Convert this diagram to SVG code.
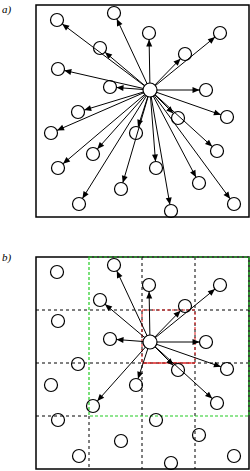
<svg xmlns="http://www.w3.org/2000/svg" width="250" height="471" viewBox="0 0 250 471">
<style>
.box{fill:none;stroke:#000;stroke-width:1.5}
.n{fill:none;stroke:#000;stroke-width:1.2}
.c{fill:#fff;stroke:#000;stroke-width:1.2}
.a{stroke:#000;stroke-width:1;fill:none;marker-end:url(#ah)}
.g{fill:none;stroke:#000;stroke-width:1;stroke-dasharray:3,3}
.gr{fill:none;stroke:#22cc22;stroke-width:1.2;stroke-dasharray:3,2}
.rd{fill:none;stroke:#e02020;stroke-width:1;stroke-dasharray:3,2}
.lbl{font-family:"Liberation Serif",serif;font-style:italic;font-size:11px;fill:#000}
</style>
<defs>
<marker id="ah" markerUnits="userSpaceOnUse" markerWidth="8" markerHeight="6" refX="7" refY="3" orient="auto" overflow="visible">
<path d="M0,0 L7,3 L0,6 z" fill="#000"/>
</marker>
</defs>
<rect width="250" height="471" fill="#fff"/>
<text class="lbl" x="2" y="13">a)</text>
<text class="lbl" x="2" y="261">b)</text>
<g id="panel-a-frame"><rect class="box" x="36" y="5" width="213" height="212"/></g>
<g id="panel-b-frame">
<rect class="box" x="36" y="257" width="213" height="212"/>
<line class="g" x1="89" y1="416" x2="89" y2="469"/>
<line class="g" x1="142" y1="257" x2="142" y2="469"/>
<line class="g" x1="195" y1="257" x2="195" y2="469"/>
<line class="g" x1="36" y1="310" x2="249" y2="310"/>
<line class="g" x1="36" y1="363" x2="249" y2="363"/>
<line class="g" x1="36" y1="416" x2="89" y2="416"/>
<rect class="gr" x="89" y="257" width="160" height="159"/>
<rect class="rd" x="142" y="310" width="53" height="53"/>
<line x1="142" y1="363" x2="195" y2="363" stroke="#e02020" stroke-width="1"/>
</g>
<g id="connectors">
<line class="a" x1="150" y1="90" x2="62.2" y2="23.9"/>
<line class="a" x1="150" y1="90" x2="116.8" y2="18.9"/>
<line class="a" x1="150" y1="90" x2="149.1" y2="39.5"/>
<line class="a" x1="150" y1="90" x2="215.0" y2="37.1"/>
<line class="a" x1="150" y1="90" x2="105.0" y2="52.2"/>
<line class="a" x1="150" y1="90" x2="180.5" y2="58.7"/>
<line class="a" x1="150" y1="90" x2="64.3" y2="70.4"/>
<line class="a" x1="150" y1="90" x2="116.5" y2="87.5"/>
<line class="a" x1="150" y1="90" x2="199.5" y2="90"/>
<line class="a" x1="150" y1="90" x2="84.2" y2="110.1"/>
<line class="a" x1="150" y1="90" x2="220.9" y2="114.8"/>
<line class="a" x1="150" y1="90" x2="173.4" y2="113.4"/>
<line class="a" x1="150" y1="90" x2="57.0" y2="130.4"/>
<line class="a" x1="150" y1="90" x2="138.0" y2="126.8"/>
<line class="a" x1="150" y1="90" x2="212.2" y2="146.6"/>
<line class="a" x1="150" y1="90" x2="97.3" y2="149.1"/>
<line class="a" x1="150" y1="90" x2="63.0" y2="163.8"/>
<line class="a" x1="150" y1="90" x2="155.5" y2="161.5"/>
<line class="a" x1="150" y1="90" x2="196.0" y2="177.3"/>
<line class="a" x1="150" y1="90" x2="122.8" y2="182.8"/>
<line class="a" x1="150" y1="90" x2="82.4" y2="198.5"/>
<line class="a" x1="150" y1="90" x2="230.1" y2="198.8"/>
<line class="a" x1="150" y1="90" x2="169.9" y2="204.6"/>
<line class="a" x1="150" y1="342" x2="116.8" y2="270.9"/>
<line class="a" x1="150" y1="342" x2="149.1" y2="291.5"/>
<line class="a" x1="150" y1="342" x2="215.0" y2="289.1"/>
<line class="a" x1="150" y1="342" x2="105.0" y2="304.2"/>
<line class="a" x1="150" y1="342" x2="180.5" y2="310.7"/>
<line class="a" x1="150" y1="342" x2="116.5" y2="339.5"/>
<line class="a" x1="150" y1="342" x2="199.5" y2="342"/>
<line class="a" x1="150" y1="342" x2="220.9" y2="366.8"/>
<line class="a" x1="150" y1="342" x2="173.4" y2="365.4"/>
<line class="a" x1="150" y1="342" x2="138.0" y2="378.8"/>
<line class="a" x1="150" y1="342" x2="212.2" y2="398.6"/>
<line class="a" x1="150" y1="342" x2="97.3" y2="401.1"/>
</g>
<g id="a-center"><circle class="c" cx="150" cy="90" r="7"/></g>
<g id="a1"><circle class="n" cx="57" cy="20" r="6.5"/></g>
<g id="a2"><circle class="n" cx="114" cy="13" r="6.5"/></g>
<g id="a3"><circle class="n" cx="149" cy="33" r="6.5"/></g>
<g id="a4"><circle class="n" cx="220" cy="33" r="6.5"/></g>
<g id="a5"><circle class="n" cx="100" cy="48" r="6.5"/></g>
<g id="a6"><circle class="n" cx="185" cy="54" r="6.5"/></g>
<g id="a7"><circle class="n" cx="58" cy="69" r="6.5"/></g>
<g id="a8"><circle class="n" cx="110" cy="87" r="6.5"/></g>
<g id="a9"><circle class="n" cx="206" cy="90" r="6.5"/></g>
<g id="a10"><circle class="n" cx="78" cy="112" r="6.5"/></g>
<g id="a11"><circle class="n" cx="227" cy="117" r="6.5"/></g>
<g id="a12"><circle class="n" cx="178" cy="118" r="6.5"/></g>
<g id="a13"><circle class="n" cx="51" cy="133" r="6.5"/></g>
<g id="a14"><circle class="n" cx="136" cy="133" r="6.5"/></g>
<g id="a15"><circle class="n" cx="217" cy="151" r="6.5"/></g>
<g id="a16"><circle class="n" cx="93" cy="154" r="6.5"/></g>
<g id="a17"><circle class="n" cx="58" cy="168" r="6.5"/></g>
<g id="a18"><circle class="n" cx="156" cy="168" r="6.5"/></g>
<g id="a19"><circle class="n" cx="199" cy="183" r="6.5"/></g>
<g id="a20"><circle class="n" cx="121" cy="189" r="6.5"/></g>
<g id="a21"><circle class="n" cx="79" cy="204" r="6.5"/></g>
<g id="a22"><circle class="n" cx="234" cy="204" r="6.5"/></g>
<g id="a23"><circle class="n" cx="171" cy="211" r="6.5"/></g>
<g id="b-center"><circle class="c" cx="150" cy="342" r="7"/></g>
<g id="b1"><circle class="n" cx="57" cy="272" r="6.5"/></g>
<g id="b2"><circle class="n" cx="114" cy="265" r="6.5"/></g>
<g id="b3"><circle class="n" cx="149" cy="285" r="6.5"/></g>
<g id="b4"><circle class="n" cx="220" cy="285" r="6.5"/></g>
<g id="b5"><circle class="n" cx="100" cy="300" r="6.5"/></g>
<g id="b6"><circle class="n" cx="185" cy="306" r="6.5"/></g>
<g id="b7"><circle class="n" cx="58" cy="321" r="6.5"/></g>
<g id="b8"><circle class="n" cx="110" cy="339" r="6.5"/></g>
<g id="b9"><circle class="n" cx="206" cy="342" r="6.5"/></g>
<g id="b10"><circle class="n" cx="78" cy="364" r="6.5"/></g>
<g id="b11"><circle class="n" cx="227" cy="369" r="6.5"/></g>
<g id="b12"><circle class="n" cx="178" cy="370" r="6.5"/></g>
<g id="b13"><circle class="n" cx="51" cy="385" r="6.5"/></g>
<g id="b14"><circle class="n" cx="136" cy="385" r="6.5"/></g>
<g id="b15"><circle class="n" cx="217" cy="403" r="6.5"/></g>
<g id="b16"><circle class="n" cx="93" cy="406" r="6.5"/></g>
<g id="b17"><circle class="n" cx="58" cy="420" r="6.5"/></g>
<g id="b18"><circle class="n" cx="156" cy="420" r="6.5"/></g>
<g id="b19"><circle class="n" cx="199" cy="435" r="6.5"/></g>
<g id="b20"><circle class="n" cx="121" cy="441" r="6.5"/></g>
<g id="b21"><circle class="n" cx="79" cy="456" r="6.5"/></g>
<g id="b22"><circle class="n" cx="234" cy="456" r="6.5"/></g>
<g id="b23"><circle class="n" cx="171" cy="463" r="6.5"/></g>
</svg>
